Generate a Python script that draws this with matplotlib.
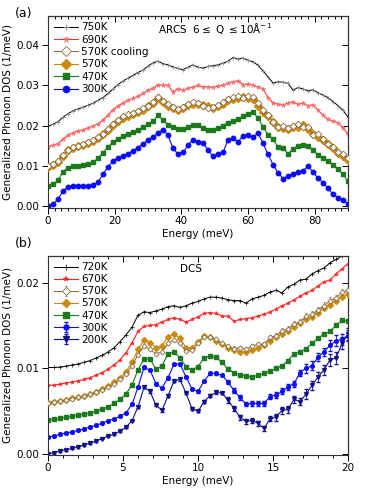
import numpy as np
import matplotlib
matplotlib.use("Agg")
import matplotlib.pyplot as plt
from matplotlib.ticker import MultipleLocator, FormatStrFormatter

plt.rcParams['font.family'] = ['DejaVu Sans']
plt.rcParams['font.size'] = 7.5

# ---------------- Panel (a): ARCS ----------------
E_a = np.arange(61) * 1.5   # energy grid 0..90 meV
dos_a_300 = np.array([0.0, 0.6, 1.8, 3.8, 4.9, 5.1, 5.2, 5.1, 5.0, 5.3, 6.0, 8.0, 9.8, 11.3, 12.0,
                      12.6, 13.1, 13.8, 14.6, 15.6, 16.4, 17.3, 18.2, 19.0, 17.7, 14.4, 13.0, 13.4, 15.2, 16.5,
                      16.0, 15.8, 14.0, 12.4, 12.9, 13.4, 16.5, 16.9, 16.0, 17.5, 17.6, 17.2, 18.2, 15.7, 12.9,
                      10.4, 8.4, 6.9, 7.5, 8.1, 8.6, 8.9, 10.0, 8.6, 7.0, 5.9, 4.5, 3.0, 2.2, 1.6, 0.6]) * 1e-3
dos_a_470 = np.array([5.0, 5.5, 6.6, 8.6, 9.6, 10.0, 10.1, 10.3, 10.5, 10.9, 12.0, 13.3, 14.8, 15.9, 16.8,
                      17.4, 17.9, 18.4, 18.9, 19.6, 20.4, 21.1, 22.6, 21.4, 20.3, 19.7, 19.2, 19.3, 19.8, 20.1,
                      20.1, 19.4, 19.0, 18.9, 19.5, 20.0, 20.8, 21.3, 21.7, 22.3, 22.8, 23.4, 21.9, 19.8, 17.8,
                      16.6, 14.8, 14.6, 13.0, 14.3, 15.0, 15.3, 15.1, 13.9, 12.8, 12.1, 11.3, 10.4, 9.3, 8.0, 6.2]) * 1e-3
dos_a_570 = np.array([9.9, 10.4, 11.1, 12.6, 14.0, 14.6, 15.0, 15.3, 15.8, 16.3, 17.0, 17.9, 19.0, 20.3, 21.2,
                      22.0, 22.5, 22.9, 23.3, 24.0, 24.8, 25.7, 27.0, 25.9, 25.0, 24.4, 23.9, 24.3, 25.1, 25.5,
                      25.5, 25.2, 24.8, 24.4, 24.9, 25.5, 26.3, 26.7, 26.9, 27.1, 27.0, 26.6, 24.9, 23.5, 22.4,
                      20.9, 19.7, 19.4, 19.3, 19.6, 19.8, 20.1, 19.2, 18.0, 17.3, 16.4, 15.4, 14.5, 13.3, 12.4, 11.5]) * 1e-3
dos_a_570c = np.array([10.0, 10.5, 11.2, 12.7, 14.1, 14.7, 15.1, 15.4, 15.9, 16.4, 17.1, 18.0, 19.2, 20.5, 21.5,
                       22.3, 22.8, 23.1, 23.6, 24.3, 25.0, 25.9, 27.2, 26.2, 25.4, 24.7, 24.2, 24.6, 25.4, 25.8,
                       25.6, 25.0, 24.5, 24.6, 25.2, 25.8, 26.6, 27.2, 27.4, 27.0, 27.5, 27.1, 25.6, 24.0, 22.6,
                       21.0, 19.8, 19.9, 19.4, 19.9, 20.4, 19.8, 19.7, 17.7, 17.9, 16.8, 15.6, 14.8, 13.5, 12.9, 11.9]) * 1e-3
dos_a_690 = np.array([14.8, 15.2, 15.6, 16.7, 17.7, 18.3, 18.7, 19.0, 19.5, 19.9, 20.5, 21.5, 22.6, 24.0, 24.9,
                      25.7, 26.3, 26.8, 27.3, 28.0, 28.8, 29.3, 30.2, 30.1, 30.0, 28.4, 29.2, 28.8, 29.3, 29.6,
                      30.0, 29.6, 29.7, 29.5, 29.9, 30.0, 30.6, 30.9, 31.2, 30.2, 30.4, 30.0, 29.6, 29.2, 27.0,
                      25.7, 25.3, 25.1, 25.7, 25.9, 25.3, 25.6, 25.0, 25.2, 23.8, 22.6, 21.6, 21.2, 20.8, 19.5, 18.0]) * 1e-3
dos_a_750 = np.array([19.9, 20.4, 21.0, 22.1, 23.0, 23.7, 24.2, 24.6, 25.1, 25.6, 26.3, 27.0, 28.0, 29.1, 30.2,
                      31.1, 31.8, 32.5, 33.2, 33.8, 34.8, 35.6, 36.0, 35.4, 35.1, 34.6, 34.2, 33.9, 34.5, 35.1,
                      34.5, 34.3, 34.7, 34.9, 35.1, 35.5, 36.0, 36.9, 36.5, 36.8, 36.2, 35.9, 35.0, 33.6, 32.1,
                      30.6, 30.9, 30.8, 30.5, 28.8, 29.5, 29.1, 28.7, 28.9, 28.2, 27.6, 27.0, 26.0, 25.0, 23.8, 22.2]) * 1e-3
labels_a = ['750K', '690K', '570K cooling', '570K', '470K', '300K']

# ---------------- Panel (b): DCS ----------------
E_b = np.arange(51) * 0.4   # energy grid 0..20 meV
dos_b_200 = np.array([0.0, 0.15, 0.35, 0.5, 0.65, 0.85, 1.05, 1.25, 1.5, 1.8, 2.1, 2.3, 2.7, 3.1, 3.9, 5.5,
                      7.8, 7.3, 5.7, 5.1, 6.8, 8.5, 8.7, 7.1, 5.3, 5.0, 6.1, 6.8, 7.2, 7.1, 6.3, 5.3, 4.3,
                      3.8, 3.9, 3.6, 3.0, 4.1, 4.3, 5.1, 5.2, 6.4, 6.1, 7.0, 8.0, 9.0, 9.8, 11.0, 11.2, 12.9, 14.0]) * 1e-3
err_b_200 = np.array([0.1] * 15 + [0.15] * 15 + [0.3] * 8 + [0.4] * 5 + [0.55] * 4 + [0.7] * 4) * 1e-3
dos_b_300 = np.array([2.0, 2.1, 2.3, 2.45, 2.6, 2.75, 2.95, 3.15, 3.35, 3.6, 3.9, 4.1, 4.4, 4.8, 5.8, 7.8,
                      10.1, 9.8, 8.2, 7.7, 8.9, 10.5, 10.5, 9.0, 7.6, 7.3, 8.5, 9.4, 9.4, 9.2, 8.4, 7.4, 6.6,
                      5.8, 5.9, 5.9, 5.9, 6.7, 6.9, 7.3, 7.8, 8.2, 9.5, 10.0, 10.3, 11.3, 11.9, 12.7, 13.2, 13.4, 13.8]) * 1e-3
err_b_300 = np.array([0.1] * 15 + [0.15] * 15 + [0.25] * 8 + [0.35] * 5 + [0.5] * 4 + [0.65] * 4) * 1e-3
dos_b_470 = np.array([4.0, 4.05, 4.15, 4.3, 4.4, 4.5, 4.65, 4.8, 5.0, 5.25, 5.5, 5.9, 6.4, 7.0, 8.1, 9.8,
                      11.1, 11.1, 9.9, 10.3, 11.7, 11.9, 11.2, 10.2, 9.8, 10.2, 11.2, 11.4, 11.3, 10.7, 9.9, 9.5, 9.2,
                      9.1, 9.0, 9.2, 9.4, 9.7, 10.0, 10.3, 10.9, 11.7, 11.9, 12.3, 12.9, 13.5, 14.0, 14.3, 15.0, 15.6, 15.5]) * 1e-3
dos_b_570 = np.array([6.0, 6.1, 6.2, 6.35, 6.5, 6.65, 6.8, 7.0, 7.25, 7.6, 7.9, 8.4, 8.9, 9.6, 10.7, 12.2,
                      13.3, 13.0, 12.4, 12.6, 13.7, 14.0, 13.5, 12.4, 12.4, 13.1, 13.8, 13.6, 13.2, 12.8, 12.4, 12.1, 11.9,
                      11.9, 12.1, 12.4, 12.7, 13.2, 13.6, 14.0, 14.4, 14.8, 15.3, 15.7, 16.0, 16.5, 17.0, 17.4, 17.9, 18.3, 18.7]) * 1e-3
dos_b_570o = np.array([6.0, 6.1, 6.2, 6.3, 6.45, 6.6, 6.75, 6.95, 7.2, 7.5, 7.8, 8.2, 8.7, 9.3, 10.3, 11.6,
                       12.6, 12.2, 11.7, 11.9, 12.9, 13.3, 12.9, 12.0, 12.1, 12.9, 13.6, 13.6, 13.4, 12.9, 12.6, 12.3, 12.4,
                       12.2, 12.6, 12.8, 12.8, 13.6, 13.8, 14.4, 14.6, 15.2, 15.4, 16.1, 16.3, 16.8, 17.3, 17.9, 18.2, 18.9, 19.1]) * 1e-3
err_b_570o = np.array([0.08] * 15 + [0.12] * 15 + [0.25] * 8 + [0.3] * 5 + [0.4] * 8) * 1e-3
dos_b_670 = np.array([8.0, 8.05, 8.15, 8.3, 8.4, 8.55, 8.7, 8.9, 9.2, 9.5, 9.9, 10.4, 11.0, 11.8, 13.0, 14.3,
                      14.9, 15.0, 15.1, 15.4, 15.7, 15.9, 15.7, 15.4, 15.7, 16.0, 16.4, 16.5, 16.4, 16.1, 16.1, 15.5, 15.7,
                      15.8, 15.9, 16.1, 16.3, 16.6, 16.9, 17.3, 17.6, 18.0, 18.4, 18.8, 19.1, 19.6, 20.1, 20.3, 21.0, 21.6, 22.2]) * 1e-3
dos_b_720 = np.array([10.1, 10.1, 10.15, 10.25, 10.4, 10.5, 10.7, 10.9, 11.2, 11.5, 11.9, 12.4, 13.1, 13.9, 14.8, 16.2,
                      16.6, 16.5, 16.7, 16.9, 17.2, 17.3, 17.1, 17.3, 17.6, 17.8, 18.1, 18.3, 18.3, 18.2, 18.0, 17.9, 17.9,
                      17.6, 18.1, 18.3, 18.5, 18.9, 19.1, 18.8, 19.5, 19.8, 20.3, 20.4, 21.0, 21.4, 21.7, 22.3, 22.7, 23.1, 23.4]) * 1e-3
labels_b = ['720K', '670K', '570K', '570K', '470K', '300K', '200K']

BLACK = '#000000'
RED = '#FF2020'
BROWN = '#8C6A3A'
GOLD = '#CC8A0E'
GREEN = '#1B7A1B'
BLUE = '#0A0AFF'
NAVY = '#10108C'

W, H = 382, 488
fig = plt.figure(figsize=(W / 100, H / 100), dpi=100)
ax1 = fig.add_axes([48 / W, 1 - 207.7 / H, 300 / W, (207.7 - 16) / H])
ax2 = fig.add_axes([48 / W, 1 - 454.5 / H, 300 / W, (454.5 - 256) / H])

# panel a
ax1.plot(E_a, dos_a_750, '-', marker='+', color=BLACK, mec='#888888', ms=3.5, lw=0.7, mew=0.6, label=labels_a[0])
ax1.plot(E_a, dos_a_690, '-', marker='*', color=RED, mec='#FF7070', mfc='#FF7070', ms=3.5, lw=0.7, mew=0.4, label=labels_a[1])
ax1.plot(E_a, dos_a_570c, '-', marker='D', color=BROWN, mfc='white', mec=BROWN, ms=3.4, lw=0.7, mew=0.6, label=labels_a[2], zorder=3)
ax1.plot(E_a, dos_a_570, '-', marker='D', color=GOLD, mfc=GOLD, mec=GOLD, ms=3.6, lw=0.8, label=labels_a[3], zorder=2.9)
ax1.plot(E_a, dos_a_470, '-', marker='s', color=GREEN, mfc=GREEN, mec=GREEN, ms=3.2, lw=0.8, label=labels_a[4])
ax1.plot(E_a, dos_a_300, '-', marker='o', color=BLUE, mfc=BLUE, mec=BLUE, ms=3.2, lw=0.8, label=labels_a[5])
ax1.set_xlim(0, 90)
ax1.set_ylim(-0.0003, 0.0472)
ax1.xaxis.set_major_locator(MultipleLocator(20))
ax1.xaxis.set_minor_locator(MultipleLocator(2))
ax1.yaxis.set_major_locator(MultipleLocator(0.01))
ax1.yaxis.set_major_formatter(FormatStrFormatter('%.2f'))
ax1.set_xlabel('Energy (meV)', labelpad=2)
ax1.set_ylabel('Generalized Phonon DOS (1/meV)', labelpad=3)
ax1.text(0.365, 0.935, r'ARCS  6$\leq$ Q $\leq$10Å$^{-1}$', transform=ax1.transAxes, fontsize=7.5, va='center')
ax1.legend(loc='upper left', bbox_to_anchor=(0.0, 1.0), frameon=False, handlelength=2.3,
           handletextpad=0.3, labelspacing=0.23, borderaxespad=0.2, fontsize=7.5, markerscale=1.4)

# panel b
h720, = ax2.plot(E_b, dos_b_720, '-', marker='+', color=BLACK, ms=3, lw=0.7, mew=0.5, label=labels_b[0])
h670, = ax2.plot(E_b, dos_b_670, '-', marker='*', color=RED, ms=3, lw=0.8, mew=0.3, label=labels_b[1])
h570o = ax2.errorbar(E_b, dos_b_570o, yerr=err_b_570o, fmt='-', marker='D', color=BROWN, mfc='white', mec=BROWN,
                     ms=2.6, lw=0.7, mew=0.6, elinewidth=0.5, capsize=1.0, label=labels_b[2], zorder=3)
h570, = ax2.plot(E_b, dos_b_570, '-', marker='D', color=GOLD, ms=3, lw=0.8, label=labels_b[3], zorder=2.9)
h470, = ax2.plot(E_b, dos_b_470, '-', marker='s', color=GREEN, ms=2.6, lw=0.8, label=labels_b[4])
h300 = ax2.errorbar(E_b, dos_b_300, yerr=err_b_300, fmt='-', marker='o', color=BLUE, ecolor=BLUE, ms=2.6, lw=0.8,
                    elinewidth=0.6, capsize=1.3, label=labels_b[5])
h200 = ax2.errorbar(E_b, dos_b_200, yerr=err_b_200, fmt='-', marker='v', color=NAVY, ecolor=NAVY, ms=2.8, lw=0.8,
                    elinewidth=0.6, capsize=1.3, label=labels_b[6])
ax2.set_xlim(0, 20)
ax2.set_ylim(-0.00005, 0.0231)
ax2.xaxis.set_major_locator(MultipleLocator(5))
ax2.xaxis.set_minor_locator(MultipleLocator(1))
ax2.yaxis.set_major_locator(MultipleLocator(0.01))
ax2.yaxis.set_major_formatter(FormatStrFormatter('%.2f'))
ax2.set_xlabel('Energy (meV)', labelpad=2)
ax2.set_ylabel('Generalized Phonon DOS (1/meV)', labelpad=3)
ax2.text(0.44, 0.935, 'DCS', transform=ax2.transAxes, fontsize=7.5, va='center')
ax2.legend([h720, h670, h570o, h570, h470, h300, h200], labels_b,
           loc='upper left', bbox_to_anchor=(0.0, 1.0), frameon=False, handlelength=2.3,
           handletextpad=0.3, labelspacing=0.2, borderaxespad=0.2, fontsize=7.5, markerscale=1.4)

for ax in (ax1, ax2):
    for s in ax.spines.values():
        s.set_linewidth(0.8)
        s.set_color('#333333')
    ax.tick_params(which='both', direction='out', width=0.7, labelsize=7.5, pad=2)
    ax.tick_params(which='major', length=4)
    ax.tick_params(which='minor', length=2.5)
    secx = ax.secondary_xaxis('top')
    secx.xaxis.set_major_locator(ax.xaxis.get_major_locator())
    secx.xaxis.set_minor_locator(ax.xaxis.get_minor_locator())
    secx.tick_params(which='both', direction='in', labeltop=False, width=0.7)
    secx.tick_params(which='major', length=4)
    secx.tick_params(which='minor', length=2.5)
    secy = ax.secondary_yaxis('right')
    secy.yaxis.set_major_locator(MultipleLocator(0.01))
    secy.tick_params(direction='in', labelright=False, length=4, width=0.7)

fig.text(15 / W, 1 - 14 / H, '(a)', fontsize=9, va='center')
fig.text(15 / W, 1 - 243 / H, '(b)', fontsize=9, va='center')

fig.savefig('out.png', dpi=100)
